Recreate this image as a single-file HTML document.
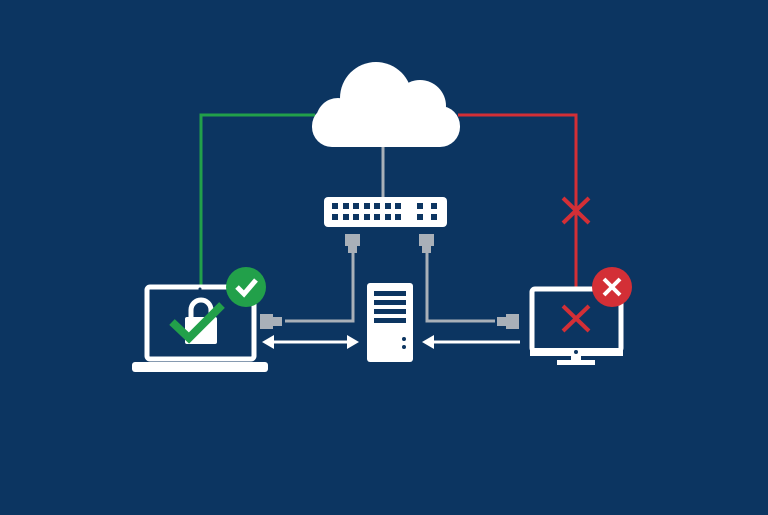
<!DOCTYPE html>
<html><head><style>html,body{margin:0;padding:0;background:#0c3561;}svg{display:block}</style></head>
<body>
<svg width="768" height="515" viewBox="0 0 768 515" xmlns="http://www.w3.org/2000/svg">
<rect width="768" height="515" fill="#0c3561"/>
<!-- lines -->
<polyline points="315,115 201,115 201,285" fill="none" stroke="#22a04a" stroke-width="3"/>
<polyline points="458,115 576,115 576,287" fill="none" stroke="#d32f36" stroke-width="3"/>
<line x1="383" y1="145" x2="383" y2="198" stroke="#a9b0b8" stroke-width="3"/>
<!-- red X on line -->
<g stroke="#d32f36" stroke-width="4"><line x1="563" y1="198" x2="589" y2="223"/><line x1="589" y1="198" x2="563" y2="223"/></g>
<!-- cloud -->
<g fill="#fff">
<circle cx="376" cy="98" r="36"/><circle cx="420" cy="106" r="26"/><circle cx="338" cy="120" r="22"/>
<rect x="312" y="106" width="148" height="41" rx="20"/>
</g>
<!-- switch -->
<rect x="324" y="197" width="123" height="30" rx="4" fill="#fff"/>
<g fill="#0c3561">
<rect x="332" y="203" width="6" height="6"/><rect x="343" y="203" width="6" height="6"/><rect x="353" y="203" width="6" height="6"/><rect x="364" y="203" width="6" height="6"/><rect x="374" y="203" width="6" height="6"/><rect x="385" y="203" width="6" height="6"/><rect x="395" y="203" width="6" height="6"/><rect x="417" y="203" width="6" height="6"/><rect x="431" y="203" width="6" height="6"/>
<rect x="332" y="214" width="6" height="6"/><rect x="343" y="214" width="6" height="6"/><rect x="353" y="214" width="6" height="6"/><rect x="364" y="214" width="6" height="6"/><rect x="374" y="214" width="6" height="6"/><rect x="385" y="214" width="6" height="6"/><rect x="395" y="214" width="6" height="6"/><rect x="417" y="214" width="6" height="6"/><rect x="431" y="214" width="6" height="6"/>
</g>
<!-- cables -->
<g fill="none" stroke="#a9b0b8" stroke-width="3">
<polyline points="353,250 353,321 285,321"/>
<polyline points="427,250 427,321 495,321"/>
</g>
<g fill="#a9b0b8">
<rect x="345" y="234" width="15" height="12"/><rect x="348" y="245" width="9" height="8"/>
<rect x="419" y="234" width="15" height="12"/><rect x="422" y="245" width="9" height="8"/>
<rect x="260" y="314" width="13" height="15"/><rect x="272" y="317" width="10" height="9"/>
<rect x="506" y="314" width="13" height="15"/><rect x="497" y="317" width="10" height="9"/>
</g>
<!-- laptop -->
<rect x="147" y="287" width="107" height="72" rx="3" fill="none" stroke="#fff" stroke-width="5"/>
<rect x="132" y="362" width="136" height="10" rx="3" fill="#fff"/>
<circle cx="200" cy="289" r="1.5" fill="#0c3561"/>
<path d="M191,318 v-8 a10,10 0 0 1 20,0 v8" fill="none" stroke="#fff" stroke-width="5"/>
<rect x="185" y="317" width="32" height="27" rx="2" fill="#fff"/>
<polyline points="172,322 189,338 222,305" fill="none" stroke="#22a04a" stroke-width="8"/>
<circle cx="246" cy="287" r="20" fill="#22a04a"/>
<polyline points="237,287 244,294 256,280" fill="none" stroke="#fff" stroke-width="5"/>
<!-- server -->
<rect x="367" y="283" width="46" height="79" rx="3" fill="#fff"/>
<g fill="#0c3561"><rect x="374" y="291" width="32" height="5"/><rect x="374" y="300" width="32" height="5"/><rect x="374" y="309" width="32" height="5"/><rect x="374" y="318" width="32" height="5"/>
<circle cx="404" cy="339" r="2"/><circle cx="404" cy="347" r="2"/></g>
<!-- arrows -->
<g stroke="#fff" stroke-width="3"><line x1="270" y1="342" x2="350" y2="342"/><line x1="430" y1="342" x2="520" y2="342"/></g>
<g fill="#fff"><polygon points="262,342 274,335 274,349"/><polygon points="359,342 347,335 347,349"/><polygon points="422,342 434,335 434,349"/></g>
<!-- monitor -->
<rect x="532" y="289" width="89" height="62" rx="3" fill="none" stroke="#fff" stroke-width="5"/>
<rect x="530" y="348" width="93" height="8" fill="#fff"/>
<circle cx="576" cy="352" r="2" fill="#0c3561"/>
<rect x="571" y="355" width="10" height="6" fill="#fff"/>
<rect x="557" y="360" width="38" height="5" fill="#fff"/>
<g stroke="#d32f36" stroke-width="4"><line x1="563" y1="306" x2="589" y2="331"/><line x1="589" y1="306" x2="563" y2="331"/></g>
<circle cx="612" cy="287" r="20" fill="#d32f36"/>
<g stroke="#fff" stroke-width="4"><line x1="604" y1="279" x2="620" y2="295"/><line x1="620" y1="279" x2="604" y2="295"/></g>
</svg>
</body></html>
